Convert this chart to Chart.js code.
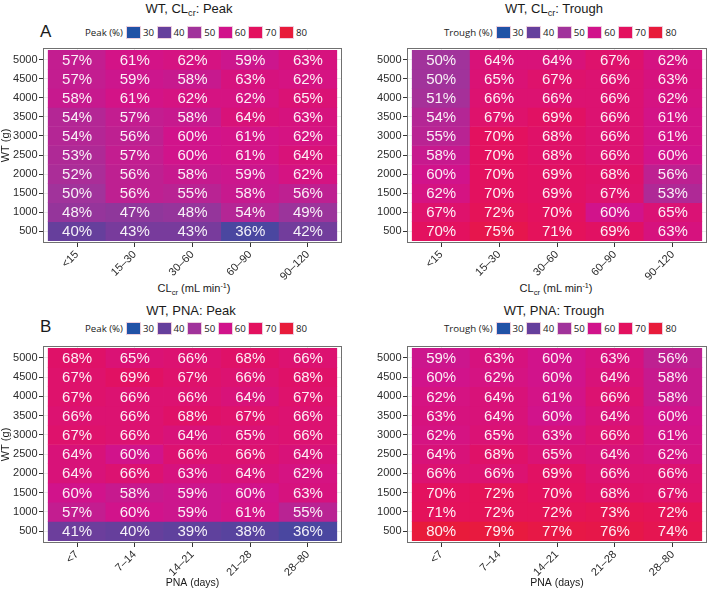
<!DOCTYPE html>
<html>
<head>
<meta charset="utf-8">
<script src="https://cdn.jsdelivr.net/npm/chart.js@4.4.1/dist/chart.umd.min.js"></script>
<style>
  body { margin: 0; background: #fff; width: 709px; height: 592px; position: relative; overflow: hidden;
         font-family: "Liberation Sans", Arial, sans-serif; color: #1a1a1a; }
  canvas { position: absolute; }
  .ttl { position: absolute; font-size: 13px; line-height: 15px; white-space: nowrap; transform: translateX(-50%); }
  .ttl sub, .axt sub { font-size: 70%; vertical-align: -3px; line-height: 0; }
  .axt sup { font-size: 65%; vertical-align: 4px; line-height: 0; }
  .tag { position: absolute; font-size: 17px; line-height: 17px; }
  .axt { position: absolute; font-size: 11px; line-height: 13px; white-space: nowrap; transform: translateX(-50%); color: #1a1a1a; }
  .leg { position: absolute; display: flex; align-items: center; height: 14px;
         font-family: "Open Sans", sans-serif; font-size: 9.7px; color: #222; }
  .leg .lt { margin-right: 3px; }
  .leg .item { display: flex; align-items: center; width: 30.6px; }
  .leg .key { width: 15px; height: 13px; box-sizing: border-box; border: 1px solid #edd0de; margin-right: 2px; }
</style>
</head>
<body>

<div class="ttl" style="left:189px;top:0.7px">WT, CL<sub>cr</sub>: Peak</div>
<div class="ttl" style="left:554px;top:0.7px">WT, CL<sub>cr</sub>: Trough</div>
<div class="ttl" style="left:191px;top:303px">WT, PNA: Peak</div>
<div class="ttl" style="left:554px;top:303px">WT, PNA: Trough</div>
<div class="tag" style="left:40px;top:22.6px">A</div>
<div class="tag" style="left:40px;top:317.6px">B</div>
<div class="leg" id="legA1" style="left:85px;top:25.5px"></div>
<div class="leg" id="legA2" style="left:444px;top:25.5px"></div>
<div class="leg" id="legB1" style="left:85px;top:321.5px"></div>
<div class="leg" id="legB2" style="left:444px;top:321.5px"></div>
<div class="axt" style="left:194px;top:281.7px">CL<sub>cr</sub> (mL min<sup>-1</sup>)</div>
<div class="axt" style="left:556px;top:281.7px">CL<sub>cr</sub> (mL min<sup>-1</sup>)</div>

<canvas id="cA1" width="355" height="298" style="left:0;top:0"></canvas>
<canvas id="cA2" width="345" height="298" style="left:364px;top:0"></canvas>
<canvas id="cB1" width="355" height="294" style="left:0;top:298px"></canvas>
<canvas id="cB2" width="345" height="294" style="left:364px;top:298px"></canvas>

<script>
// rows top to bottom (body weight, g)
const wtRows  = [5000, 4500, 4000, 3500, 3000, 2500, 2000, 1500, 1000, 500];
const wtTicks = [500, 1000, 1500, 2000, 2500, 3000, 3500, 4000, 4500, 5000];
const clcrBins = ['<15', '15–30', '30–60', '60–90', '90–120'];
const pnaBins  = ['<7', '7–14', '14–21', '21–28', '28–80'];
const legendBreaks = [30, 40, 50, 60, 70, 80];

// % target attainment, one row per wtRows entry
const peakClcr = [
  [57, 61, 62, 59, 63],
  [57, 59, 58, 63, 62],
  [58, 61, 62, 62, 65],
  [54, 57, 58, 64, 63],
  [54, 56, 60, 61, 62],
  [53, 57, 60, 61, 64],
  [52, 56, 58, 59, 62],
  [50, 56, 55, 58, 56],
  [48, 47, 48, 54, 49],
  [40, 43, 43, 36, 42]
];
const troughClcr = [
  [50, 64, 64, 67, 62],
  [50, 65, 67, 66, 63],
  [51, 66, 66, 66, 62],
  [54, 67, 69, 66, 61],
  [55, 70, 68, 66, 61],
  [58, 70, 68, 66, 60],
  [60, 70, 69, 68, 56],
  [62, 70, 69, 67, 53],
  [67, 72, 70, 60, 65],
  [70, 75, 71, 69, 63]
];
const peakPna = [
  [68, 65, 66, 68, 66],
  [67, 69, 67, 66, 68],
  [67, 66, 66, 64, 67],
  [66, 66, 68, 67, 66],
  [67, 66, 64, 65, 66],
  [64, 60, 66, 66, 64],
  [64, 66, 63, 64, 62],
  [60, 58, 59, 60, 63],
  [57, 60, 59, 61, 55],
  [41, 40, 39, 38, 36]
];
const troughPna = [
  [59, 63, 60, 63, 56],
  [60, 62, 60, 64, 58],
  [62, 64, 61, 66, 58],
  [63, 64, 60, 64, 60],
  [62, 65, 63, 66, 61],
  [64, 68, 65, 64, 62],
  [66, 66, 69, 66, 66],
  [70, 72, 70, 68, 67],
  [71, 72, 72, 73, 72],
  [80, 79, 77, 76, 74]
];

// fill colours at each legend break
const fillStops = ['#2152a6', '#663f9c', '#a1339b', '#d1138b', '#e3115f', '#e81b3b'];

function hexRgb(h) {
  return [1, 3, 5].map(i => parseInt(h.slice(i, i + 2), 16));
}
function fillFor(v) {
  const lo = legendBreaks[0], hi = legendBreaks[legendBreaks.length - 1];
  const t = Math.min(Math.max(v, lo), hi);
  let i = Math.min(Math.floor((t - lo) / 10), fillStops.length - 2);
  const f = (t - legendBreaks[i]) / (legendBreaks[i + 1] - legendBreaks[i]);
  const a = hexRgb(fillStops[i]), b = hexRgb(fillStops[i + 1]);
  const c = a.map((x, k) => Math.round(x + (b[k] - x) * f));
  return `rgb(${c[0]},${c[1]},${c[2]})`;
}

/* ── legend (HTML) ── */
function buildLegend(id, title) {
  const el = document.getElementById(id);
  el.innerHTML = `<span class="lt">${title}</span>` + legendBreaks.map((b, i) =>
    `<span class="item"><span class="key" style="background:${fillStops[i]}"></span>${b}</span>`).join('');
}
buildLegend('legA1', 'Peak (%)');
buildLegend('legA2', 'Trough (%)');
buildLegend('legB1', 'Peak (%)');
buildLegend('legB2', 'Trough (%)');

const tickFont = { family: '"Liberation Sans", Arial, sans-serif', size: 11 };

/* ── heatmap built from floating bars ── */
function makeHeatmap(id, bins, grid, opt) {
  const datasets = wtRows.map((wt, r) => ({
    data: grid[r].map((v, c) => ({ x: c + 1, y: [wt - 250, wt + 250] })),
    backgroundColor: grid[r].map(fillFor),
    borderWidth: 0,
    grouped: false,
    barPercentage: 1,
    categoryPercentage: 1
  }));

  const cellText = {
    id: 'cellText',
    afterDatasetsDraw(chart) {
      const ctx = chart.ctx;
      ctx.save();
      ctx.font = '15px "Liberation Sans", Arial, sans-serif';
      ctx.fillStyle = 'rgba(255,255,255,0.93)';
      ctx.textAlign = 'center';
      ctx.textBaseline = 'middle';
      chart.data.datasets.forEach((ds, r) => {
        chart.getDatasetMeta(r).data.forEach((el, c) => {
          ctx.fillText(grid[r][c] + '%', el.x, (el.y + el.base) / 2 + 1);
        });
      });
      ctx.restore();
    }
  };
  const panelBorder = {
    id: 'panelBorder',
    afterDraw(chart) {
      const a = chart.chartArea, ctx = chart.ctx;
      ctx.save();
      ctx.strokeStyle = '#707070';
      ctx.lineWidth = 1;
      ctx.strokeRect(a.left + 0.5, a.top + 0.5, a.right - a.left - 1, a.bottom - a.top - 1);
      ctx.restore();
    }
  };

  return new Chart(document.getElementById(id), {
    type: 'bar',
    data: { datasets },
    options: {
      responsive: false,
      animation: false,
      events: [],
      layout: { padding: { top: 48, left: 0, right: opt.padRight, bottom: 0 } },
      plugins: { legend: { display: false }, tooltip: { enabled: false } },
      scales: {
        x: {
          type: 'linear',
          min: 0.41,
          max: 5.59,
          offset: false,
          afterBuildTicks: s => { s.ticks = bins.map((b, i) => ({ value: i + 1 })); },
          afterFit: s => { s.height = opt.xHeight; },
          ticks: {
            callback: v => bins[v - 1],
            minRotation: 45, maxRotation: 45, autoSkip: false,
            font: tickFont, color: '#2b2b2b', padding: 1
          },
          grid: { color: '#ebebeb', tickColor: '#333', tickLength: 4, offset: false },
          border: { display: false },
          title: {
            display: !!opt.xTitle, text: opt.xTitle || '', color: '#1a1a1a',
            font: { family: tickFont.family, size: 10.5 }, padding: { top: 0, bottom: 3 }
          }
        },
        y: {
          type: 'linear',
          min: 190,
          max: 5310,
          afterBuildTicks: s => { s.ticks = wtTicks.map(v => ({ value: v })); },
          afterFit: s => { s.width = 43; },
          ticks: { callback: v => String(v), font: tickFont, color: '#2b2b2b', padding: 1.5 },
          grid: { color: '#ebebeb', tickColor: '#333', tickLength: 4 },
          border: { display: false },
          title: {
            display: !!opt.yTitle, text: opt.yTitle || '', color: '#1a1a1a',
            font: { family: tickFont.family, size: 11, lineHeight: 1 }, padding: 0
          }
        }
      }
    },
    plugins: [cellText, panelBorder]
  });
}

makeHeatmap('cA1', clcrBins, peakClcr,   { padRight: 13, xHeight: 55, yTitle: 'WT (g)' });
makeHeatmap('cA2', clcrBins, troughClcr, { padRight: 2,  xHeight: 55 });
makeHeatmap('cB1', pnaBins,  peakPna,    { padRight: 13, xHeight: 49, yTitle: 'WT (g)', xTitle: 'PNA (days)' });
makeHeatmap('cB2', pnaBins,  troughPna,  { padRight: 2,  xHeight: 49, xTitle: 'PNA (days)' });
</script>
</body>
</html>
